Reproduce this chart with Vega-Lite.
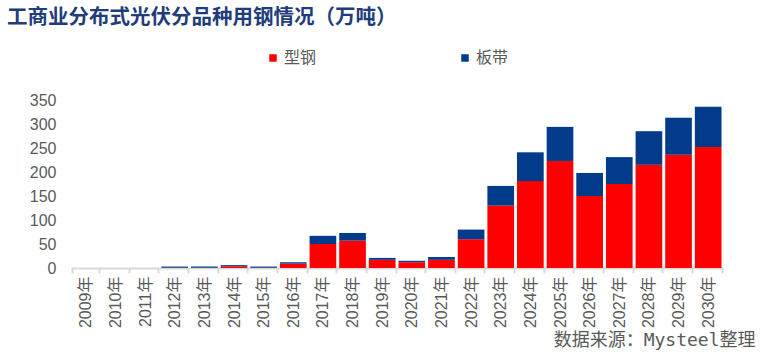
{
  "$schema": "https://vega.github.io/schema/vega-lite/v6.json",
  "autosize": "none",
  "width": 652,
  "height": 168,
  "padding": {"left": 71, "top": 100, "right": 39, "bottom": 90},
  "background": "white",
  "title": {
    "text": "工商业分布式光伏分品种用钢情况（万吨）",
    "anchor": "start",
    "frame": "group",
    "dx": -64,
    "dy": -12,
    "fontSize": 20.5,
    "fontWeight": "bold",
    "font": "Noto Sans CJK SC",
    "color": "#1f3d7a",
    "offset": 10
  },
  "data": {
    "values": [
      {"year": "2009年", "type": "型钢", "value": 0},
      {"year": "2009年", "type": "板带", "value": 0},
      {"year": "2010年", "type": "型钢", "value": 0},
      {"year": "2010年", "type": "板带", "value": 0},
      {"year": "2011年", "type": "型钢", "value": 0},
      {"year": "2011年", "type": "板带", "value": 0},
      {"year": "2012年", "type": "型钢", "value": 0.5},
      {"year": "2012年", "type": "板带", "value": 2.5},
      {"year": "2013年", "type": "型钢", "value": 0.5},
      {"year": "2013年", "type": "板带", "value": 2.5},
      {"year": "2014年", "type": "型钢", "value": 3.5},
      {"year": "2014年", "type": "板带", "value": 2.5},
      {"year": "2015年", "type": "型钢", "value": 0.5},
      {"year": "2015年", "type": "板带", "value": 2.5},
      {"year": "2016年", "type": "型钢", "value": 9},
      {"year": "2016年", "type": "板带", "value": 3},
      {"year": "2017年", "type": "型钢", "value": 50},
      {"year": "2017年", "type": "板带", "value": 17},
      {"year": "2018年", "type": "型钢", "value": 57},
      {"year": "2018年", "type": "板带", "value": 16},
      {"year": "2019年", "type": "型钢", "value": 17},
      {"year": "2019年", "type": "板带", "value": 4},
      {"year": "2020年", "type": "型钢", "value": 12},
      {"year": "2020年", "type": "板带", "value": 3},
      {"year": "2021年", "type": "型钢", "value": 17},
      {"year": "2021年", "type": "板带", "value": 6},
      {"year": "2022年", "type": "型钢", "value": 60},
      {"year": "2022年", "type": "板带", "value": 20},
      {"year": "2023年", "type": "型钢", "value": 130},
      {"year": "2023年", "type": "板带", "value": 41},
      {"year": "2024年", "type": "型钢", "value": 181},
      {"year": "2024年", "type": "板带", "value": 60},
      {"year": "2025年", "type": "型钢", "value": 223},
      {"year": "2025年", "type": "板带", "value": 71},
      {"year": "2026年", "type": "型钢", "value": 150},
      {"year": "2026年", "type": "板带", "value": 48},
      {"year": "2027年", "type": "型钢", "value": 175},
      {"year": "2027年", "type": "板带", "value": 56},
      {"year": "2028年", "type": "型钢", "value": 215},
      {"year": "2028年", "type": "板带", "value": 70},
      {"year": "2029年", "type": "型钢", "value": 236},
      {"year": "2029年", "type": "板带", "value": 77},
      {"year": "2030年", "type": "型钢", "value": 252},
      {"year": "2030年", "type": "板带", "value": 84}
    ]
  },
  "mark": {"type": "bar"},
  "encoding": {
    "x": {
      "field": "year",
      "type": "nominal",
      "sort": null,
      "scale": {"paddingInner": 0.1, "paddingOuter": 0.05},
      "axis": {
        "title": "数据来源：Mysteel整理",
        "titleX": 684,
        "titleY": 72,
        "titleAlign": "right",
        "titleBaseline": "middle",
        "titleAnchor": null,
        "titleFontSize": 18,
        "titleFontWeight": "normal",
        "titleColor": "#595959",
        "titleFont": "DejaVu Sans Mono, Noto Sans CJK SC",
        "labelAngle": -90,
        "labelFontSize": 16,
        "labelColor": "#595959",
        "labelFont": "Liberation Sans, Noto Sans CJK SC",
        "labelPadding": 3,
        "domainColor": "#d9d9d9",
        "domainWidth": 2,
        "tickColor": "#d9d9d9",
        "tickWidth": 2,
        "tickSize": 5,
        "tickBand": "extent",
        "grid": false
      }
    },
    "y": {
      "field": "value",
      "type": "quantitative",
      "stack": "zero",
      "scale": {"domain": [0, 350], "nice": false},
      "axis": {
        "title": null,
        "values": [0, 50, 100, 150, 200, 250, 300, 350],
        "domain": false,
        "ticks": false,
        "tickSize": 0,
        "grid": false,
        "labelPadding": 15,
        "labelFontSize": 16,
        "labelColor": "#595959",
        "labelFont": "Liberation Sans"
      }
    },
    "color": {
      "field": "type",
      "type": "nominal",
      "scale": {"domain": ["型钢", "板带"], "range": ["#ff0000", "#023b8a"]},
      "legend": {
        "title": null,
        "orient": "none",
        "direction": "horizontal",
        "legendX": 194,
        "legendY": -50,
        "symbolType": "square",
        "symbolSize": 56,
        "symbolStrokeWidth": 0,
        "labelFontSize": 16,
        "labelColor": "#595959",
        "labelFont": "Noto Sans CJK SC",
        "labelOffset": 3,
        "columnPadding": 140,
        "padding": 0
      }
    },
    "order": {"field": "type", "sort": "ascending"}
  },
  "config": {"view": {"stroke": null}}
}
